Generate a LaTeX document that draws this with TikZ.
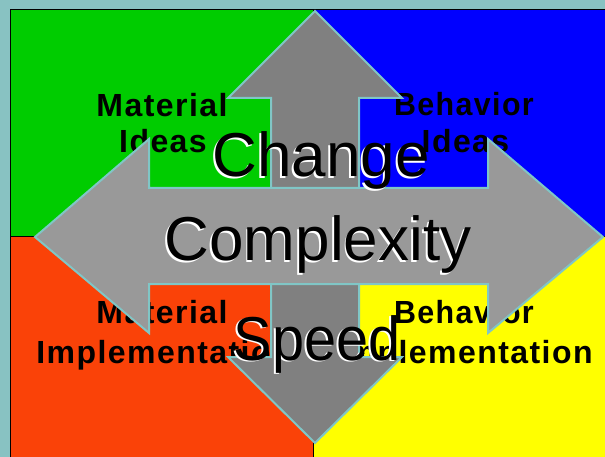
\documentclass[tikz,border=0pt]{standalone}
\usepackage{fontspec}
\setmainfont{Liberation Sans}
\newfontfamily\lblfont[LetterSpace=4.5]{Liberation Sans}
\definecolor{bgteal}{RGB}{136,194,194}
\definecolor{edgeteal}{RGB}{128,198,198}
\definecolor{qgreen}{RGB}{0,204,0}
\definecolor{qblue}{RGB}{0,0,255}
\definecolor{qred}{RGB}{250,66,8}
\definecolor{qyellow}{RGB}{255,255,0}
\definecolor{vgray}{RGB}{128,128,128}
\definecolor{hgray}{RGB}{153,153,153}
\tikzset{
  lbl/.style={anchor=base, inner sep=0pt, text=black, font=\lblfont\bfseries\fontsize{32}{32}\selectfont},
  bigtxt/.style={anchor=base, inner sep=0pt, text=black, font=\fontsize{62}{62}\selectfont},
  bigshadow/.style={bigtxt, text=white},
  arrowshape/.style={draw=edgeteal, line width=2pt, line join=miter},
  qline/.style={draw=black, line width=1pt}
}
\begin{document}
\begin{tikzpicture}[x=1pt, y=-1pt]
\useasboundingbox (0,0) rectangle (605,457);
\fill[bgteal] (0,0) rectangle (605,457);
% quadrants
\fill[qgreen] (10,10) rectangle (313,237);
\fill[qblue] (313,10) rectangle (605,237);
\fill[qred] (10,237) rectangle (313,457);
\fill[qyellow] (313,237) rectangle (605,457);
\draw[qline] (10,457) -- (10,10) -- (605,10);
\draw[qline] (10,237) -- (605,237);
\draw[qline] (313,10) -- (313,457);
% quadrant labels
\node[lbl] (mi1) at (162,116.5) {Material};
\node[lbl] (mi2) at (163,153) {Ideas};
\node[lbl, xscale=0.95] (bi1) at (464,115.5) {Behavior};
\node[lbl] (bi2) at (465.5,153) {Ideas};
\node[lbl] (mm1) at (162,323) {Material};
\node[lbl] (mm2) at (164,363) {Implementation};
\node[lbl, xscale=0.95] (bm1) at (464,323) {Behavior};
\node[lbl] (bm2) at (465,363) {Implementation};
% vertical double arrow
\path[arrowshape, fill=vgray] (315,11) -- (402,98) -- (359,98) -- (359,357) -- (402,357)
  -- (315,443) -- (228,357) -- (271,357) -- (271,98) -- (228,98) -- cycle;
% horizontal double arrow
\path[arrowshape, fill=hgray] (35,237) -- (149,139) -- (149,188) -- (488,188) -- (488,139)
  -- (603,237) -- (488,333) -- (488,284) -- (149,284) -- (149,333) -- cycle;
% big texts with white shadow
\node[bigshadow] (chs) at (319.2,178.8) {Change};
\node[bigtxt] (ch) at (321,177) {Change};
\node[bigshadow] (cxs) at (316.2,262.8) {Complexity};
\node[bigtxt] (cx) at (318,261) {Complexity};
\node[bigshadow, xscale=0.93] (sps) at (315.2,361.8) {Speed};
\node[bigtxt, xscale=0.93] (sp) at (317,360) {Speed};
\end{tikzpicture}
\end{document}
